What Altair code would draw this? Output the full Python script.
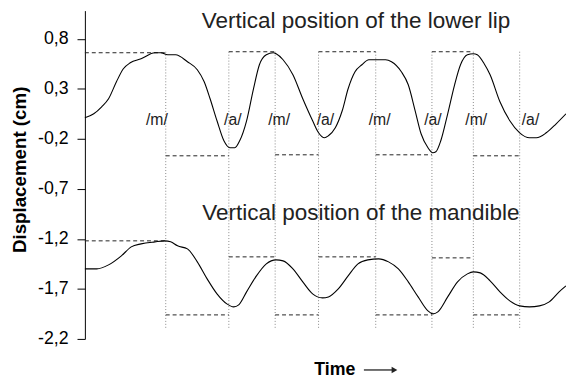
import altair as alt
import pandas as pd

# ---- data (time in arbitrary units) ----
lip_t = [0, 9, 17, 24, 32, 39, 46, 57, 71, 77,
         84, 92, 104, 114, 121, 127, 134, 141, 147, 152,
         157, 164, 171, 177, 184, 191, 194, 201, 211, 221,
         231, 237, 243, 247, 254, 261, 267, 274, 281, 288,
         295, 305, 311, 321, 328, 335, 341, 348, 353, 356,
         361, 368, 375, 381, 388, 394, 398, 405, 411, 421,
         431, 441, 451, 458, 468, 478, 488]
lip_v = [0.01, 0.05, 0.12, 0.20, 0.37, 0.50, 0.56, 0.60, 0.66, 0.66,
         0.64, 0.64, 0.57, 0.49, 0.37, 0.20, -0.02, -0.22, -0.29, -0.29,
         -0.22, -0.02, 0.30, 0.54, 0.64, 0.66, 0.65, 0.59, 0.44, 0.20,
         -0.02, -0.14, -0.19, -0.17, -0.09, 0.08, 0.30, 0.47, 0.54, 0.59,
         0.59, 0.59, 0.57, 0.47, 0.34, 0.08, -0.15, -0.29, -0.34, -0.33,
         -0.22, 0.05, 0.34, 0.54, 0.64, 0.65, 0.64, 0.55, 0.44, 0.17,
         -0.02, -0.14, -0.19, -0.19, -0.14, -0.05, 0.05]

jaw_t = [0, 12, 24, 37, 47, 57, 71, 81, 87, 94,
         104, 114, 124, 134, 144, 151, 156, 164, 174, 184,
         194, 201, 211, 221, 231, 241, 247, 257, 267, 277,
         287, 298, 308, 318, 328, 338, 348, 353, 358, 368,
         378, 388, 394, 401, 411, 421, 431, 441, 451, 461,
         471, 481, 488]
jaw_v = [-1.50, -1.50, -1.46, -1.37, -1.28, -1.25, -1.23, -1.22, -1.23, -1.27,
         -1.30, -1.43, -1.60, -1.75, -1.85, -1.88, -1.86, -1.73, -1.57, -1.45,
         -1.41, -1.42, -1.50, -1.63, -1.75, -1.79, -1.78, -1.70, -1.57, -1.45,
         -1.41, -1.40, -1.43, -1.50, -1.63, -1.78, -1.92, -1.95, -1.93, -1.78,
         -1.63, -1.55, -1.53, -1.54, -1.62, -1.73, -1.82, -1.87, -1.88, -1.87,
         -1.83, -1.73, -1.67]

event_t = [82, 146, 193, 237, 295, 352, 394, 441]
event_top = 0.67
event_bottom = -2.09
seg_start = [0, 82, 146, 193, 237, 295, 352, 394]
seg_end = [82, 146, 193, 237, 295, 352, 394, 441]
lip_levels = [0.66, -0.37, 0.67, -0.36, 0.67, -0.36, 0.67, -0.37]
jaw_levels = [-1.22, -1.96, -1.38, -1.96, -1.38, -1.96, -1.39, -1.96]

phon = ["/m/", "/a/", "/m/", "/a/", "/m/", "/a/", "/m/", "/a/"]
phon_t = [73, 150, 197, 244, 299, 353, 397, 452]
phon_v = -0.01

titles = ["Vertical position of the lower lip", "Vertical position of the mandible"]
title_t = [275, 280]
title_v = [0.98, -0.94]

y_ticks = [0.8, 0.3, -0.2, -0.7, -1.2, -1.7, -2.2]

FONT = "Liberation Sans"

curves = pd.concat([
    pd.DataFrame({"t": lip_t, "v": lip_v, "series": "lip"}),
    pd.DataFrame({"t": jaw_t, "v": jaw_v, "series": "jaw"}),
])
segs = pd.concat([
    pd.DataFrame({"t0": seg_start, "t1": seg_end, "v": lip_levels}),
    pd.DataFrame({"t0": seg_start, "t1": seg_end, "v": jaw_levels}),
])
events = pd.DataFrame({"t": event_t, "top": event_top, "bottom": event_bottom})
labels = pd.DataFrame({"t": phon_t, "v": phon_v, "txt": phon})
tdf = pd.DataFrame({"t": title_t, "v": title_v, "txt": titles})

xscale = alt.Scale(domain=[0, 488], nice=False, zero=False)
yscale = alt.Scale(domain=[-2.2, 1.081], nice=False, zero=False)

xaxis = alt.Axis(title="Time", domain=False, ticks=False, labels=False, grid=False,
                 titleFont=FONT, titleFontSize=18, titleFontWeight="bold", titleColor="black",
                 titleX=253, titleY=31, titleAlign="center", titleBaseline="middle")
yaxis = alt.Axis(values=y_ticks, grid=False,
                 labelExpr="replace(replace(format(datum.value, '.1f'), '.', ','), '\u2212', '-')",
                 labelFont=FONT, labelFontSize=18, labelColor="black",
                 tickSize=8, labelPadding=9, tickColor="black", domainColor="black",
                 title="Displacement (cm)", titleFont=FONT, titleFontSize=19,
                 titleFontWeight="bold", titleColor="black",
                 titleAngle=270, titleX=-66, titleY=161,
                 titleAlign="center", titleBaseline="middle")

lines = alt.Chart(curves).mark_line(color="black", strokeWidth=1.1, interpolate="monotone").encode(
    x=alt.X("t:Q", scale=xscale, axis=xaxis),
    y=alt.Y("v:Q", scale=yscale, axis=yaxis),
    detail="series:N",
)

vlines = alt.Chart(events).mark_rule(color="#888888", strokeDash=[1, 2], strokeWidth=1).encode(
    x=alt.X("t:Q", scale=xscale),
    y=alt.Y("top:Q", scale=yscale),
    y2="bottom:Q",
)

hsegs = alt.Chart(segs).mark_rule(color="#222222", strokeDash=[4, 3], strokeWidth=1).encode(
    x=alt.X("t0:Q", scale=xscale),
    x2="t1:Q",
    y=alt.Y("v:Q", scale=yscale),
)

phon_text = alt.Chart(labels).mark_text(font=FONT, fontSize=16, color="#222222",
                                        align="center", baseline="middle").encode(
    x=alt.X("t:Q", scale=xscale),
    y=alt.Y("v:Q", scale=yscale),
    text="txt:N",
)

title_text = alt.Chart(tdf).mark_text(font=FONT, fontSize=22.8, color="#222222",
                                      align="center", baseline="middle").encode(
    x=alt.X("t:Q", scale=xscale),
    y=alt.Y("v:Q", scale=yscale),
    text="txt:N",
)

dummy = pd.DataFrame({"a": [0]})
arrow_line = alt.Chart(dummy).mark_rule(color="#222222", strokeWidth=1.3).encode(
    x=alt.value(283), x2=alt.value(313), y=alt.value(364.5)
)
arrow_head = alt.Chart(dummy).mark_point(shape="triangle-right", filled=True, color="#222222",
                                         size=45, opacity=1).encode(
    x=alt.value(314), y=alt.value(364.5)
)

chart = alt.layer(vlines, hsegs, lines, phon_text, title_text, arrow_line, arrow_head).properties(
    width=488, height=333,
    autosize=alt.AutoSizeParams(type="none"),
    padding={"left": 78, "top": 0, "right": 0, "bottom": 38},
    background="white",
).configure_view(stroke=None)

chart.save("out.html", embed_options={"renderer": "svg", "actions": False})
